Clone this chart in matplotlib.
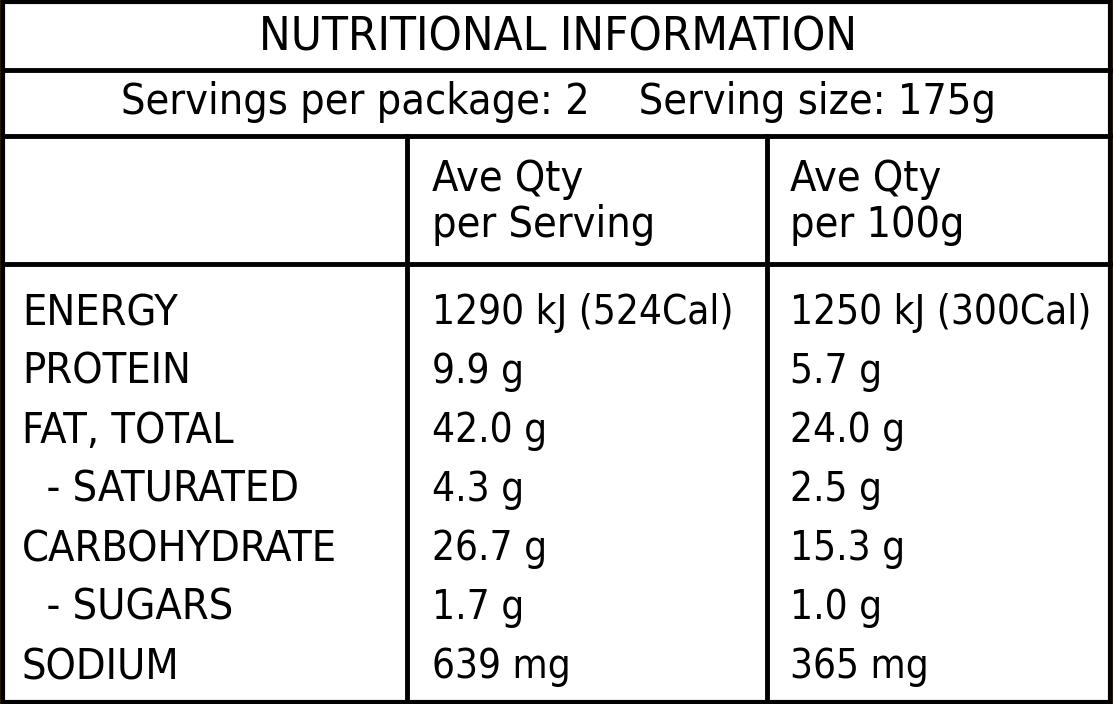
import matplotlib
matplotlib.use("Agg")
import matplotlib.pyplot as plt

title = "NUTRITIONAL INFORMATION"
subtitle = "Servings per package: 2    Serving size: 175g"
col_headers = ["Ave Qty\nper Serving", "Ave Qty\nper 100g"]
nutrients = ["ENERGY", "PROTEIN", "FAT, TOTAL", "  - SATURATED", "CARBOHYDRATE", "  - SUGARS", "SODIUM"]
per_serving = ["1290 kJ (524Cal)", "9.9 g", "42.0 g", "4.3 g", "26.7 g", "1.7 g", "639 mg"]
per_100g = ["1250 kJ (300Cal)", "5.7 g", "24.0 g", "2.5 g", "15.3 g", "1.0 g", "365 mg"]

fam = ["DejaVu Sans", "Noto Sans"]
kw = dict(family=fam, fontstretch="condensed")
W, H = 1113, 704
fig = plt.figure(figsize=(W/100, H/100), dpi=100)
ax = fig.add_axes([0, 0, 1, 1])
ax.set_xlim(0, W); ax.set_ylim(H, 0); ax.axis("off")
fig.patch.set_facecolor("#2a1a08")
ax.add_patch(plt.Rectangle((3, 2), W-6, H-4, facecolor="white", edgecolor="black", lw=3))
lw = 3.5
for y in (70, 136, 264):
    ax.plot([3, W-3], [y, y], color="black", lw=lw)
for x in (407, 767):
    ax.plot([x, x], [136, H-2], color="black", lw=lw)

ax.text(W/2 + 2, 38, title, ha="center", va="center", fontsize=34, **kw)
ax.text(W/2 + 2, 102, subtitle, ha="center", va="center", fontsize=31, **kw)
for x, h in zip((432, 790), col_headers):
    ax.text(x, 202, h, ha="left", va="center", fontsize=31, linespacing=1.15, **kw)
for i, (n, a, b) in enumerate(zip(nutrients, per_serving, per_100g)):
    y = 313 + i * 59
    ax.text(22, y, n, ha="left", va="center", fontsize=31, **kw)
    ax.text(432, y, a, ha="left", va="center", fontsize=29, **kw)
    ax.text(790, y, b, ha="left", va="center", fontsize=29, **kw)
fig.savefig("out.png", dpi=100, facecolor=fig.get_facecolor())
